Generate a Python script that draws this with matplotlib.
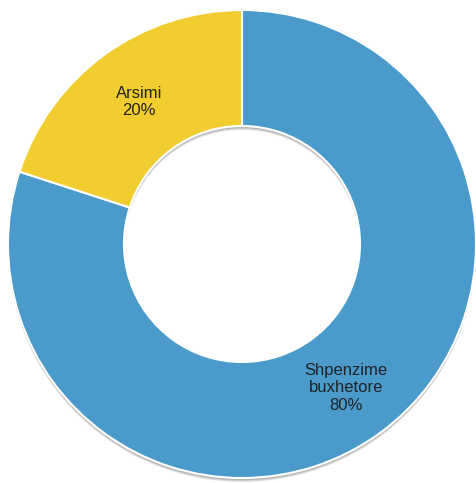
import matplotlib
matplotlib.use('Agg')
import matplotlib.pyplot as plt
from matplotlib.patches import Wedge

labels = ['Shpenzime\nbuxhetore\n80%', 'Arsimi\n20%']
values = [80, 20]
colors = ['#4A9ACB', '#F1CD2F']

plt.rcParams['font.family'] = ['Liberation Sans', 'DejaVu Sans']

fig = plt.figure(figsize=(4.77, 4.83), dpi=100)
ax = fig.add_axes([0, 0, 1, 1])

cx, cy, r = 242, 239, 234
hole = 118

# soft shadow below the ring
for off, a in [(4, 0.25), (3, 0.35), (2, 0.45)]:
    ax.add_patch(Wedge((cx, cy - off), r, 0, 360, width=r - hole,
                       facecolor='#9a9a9a', edgecolor='none', alpha=a, zorder=0))

wedges, _ = ax.pie(values, colors=colors, startangle=90, counterclock=False,
                   center=(cx, cy), radius=r, frame=True,
                   wedgeprops=dict(width=r - hole, edgecolor='white', linewidth=1.5))
ax.set_xlim(0, 477)
ax.set_ylim(0, 483)
ax.axis('off')

ax.text(139, 483 - 102, labels[1], ha='center', va='center', fontsize=12,
        color='#222222', linespacing=1.2)
ax.text(346, 483 - 388, labels[0], ha='center', va='center', fontsize=12,
        color='#222222', linespacing=1.2)

fig.savefig('out.png', dpi=100)
